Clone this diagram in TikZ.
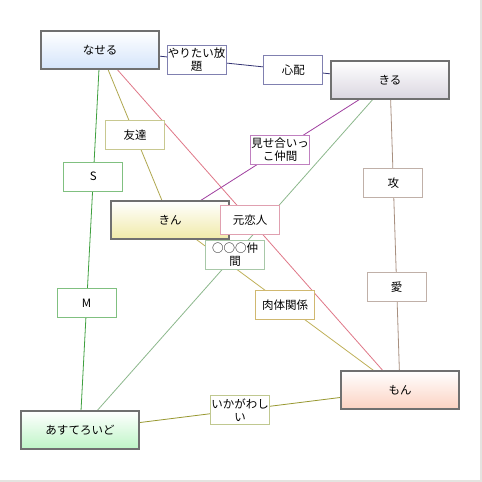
\documentclass[tikz,border=0pt]{standalone}
\usepackage{fontspec}
\newfontfamily\jp{Noto Sans CJK JP}
\pgfdeclarelayer{bgl}
\pgfdeclarelayer{edges}
\pgfdeclarelayer{labels}
\pgfsetlayers{bgl,edges,main,labels}
\definecolor{mainborder}{HTML}{707070}
\definecolor{cNaseru}{HTML}{D4E4FA}
\definecolor{cKiru}{HTML}{DAD6E0}
\definecolor{cKin}{HTML}{F0EAA8}
\definecolor{cAsu}{HTML}{BEF5C6}
\definecolor{cMon}{HTML}{FCD2C2}
\definecolor{eNavy}{HTML}{343474}
\definecolor{eGreen}{HTML}{40A040}
\definecolor{eOlive}{HTML}{B0A850}
\definecolor{ePink}{HTML}{E07888}
\definecolor{ePurple}{HTML}{A040A0}
\definecolor{eGrayGreen}{HTML}{8CB88C}
\definecolor{eGold}{HTML}{C0B058}
\definecolor{eBrown}{HTML}{A89080}
\definecolor{eDarkOlive}{HTML}{989830}
\definecolor{bNavy}{HTML}{8080B0}
\definecolor{bGreen}{HTML}{80C080}
\definecolor{bOlive}{HTML}{C8C890}
\definecolor{bPink}{HTML}{E0A0B0}
\definecolor{bPurple}{HTML}{C080C0}
\definecolor{bGrayGreen}{HTML}{A8C8A8}
\definecolor{bGold}{HTML}{D0B870}
\definecolor{bBrown}{HTML}{C0B0A8}
\definecolor{bDarkOlive}{HTML}{C0C890}
\definecolor{frame}{HTML}{E4E4E0}
\tikzset{
  mainbox/.style={draw=mainborder, line width=2pt, minimum width=118pt, minimum height=38pt,
    top color=white, bottom color=#1, font=\jp\fontsize{11.5}{13}\selectfont, inner sep=0pt},
  labbox/.style={draw=#1, line width=1pt, fill=white, minimum width=59pt, minimum height=29pt,
    font=\jp\fontsize{11.5}{13}\selectfont, inner sep=0pt, align=center},
  conn/.style={draw=#1, line width=0.8pt}
}
\begin{document}
\begin{tikzpicture}[x=1pt,y=-1pt]
\useasboundingbox (0,0) rectangle (482,482);
\begin{pgfonlayer}{bgl}
\fill[white] (0,0) rectangle (482,482);
\fill[frame] (480,0) rectangle (482,482);
\fill[frame] (0,480) rectangle (482,482);
\end{pgfonlayer}

\node[mainbox=cNaseru] (naseru) at (100,50) {なせる};
\node[mainbox=cKiru] (kiru) at (390,80) {きる};
\node[mainbox=cKin] (kin) at (170,220) {きん};
\node[mainbox=cAsu] (asu) at (80,430) {あすてろいど};
\node[mainbox=cMon] (mon) at (400,390) {もん};

\begin{pgfonlayer}{edges}
\draw[conn=eNavy] (naseru.center) -- (kiru.center);
\draw[conn=eGreen] (naseru.center) -- (asu.center);
\draw[conn=eOlive] (naseru.center) -- (kin.center);
\draw[conn=ePink] (naseru.center) -- (mon.center);
\draw[conn=ePurple] (kiru.center) -- (kin.center);
\draw[conn=eGrayGreen] (kiru.center) -- (asu.center);
\draw[conn=eGold] (kin.center) -- (mon.center);
\draw[conn=eBrown] (kiru.center) -- (mon.center);
\draw[conn=eDarkOlive] (asu.center) -- (mon.center);
\end{pgfonlayer}

\begin{pgfonlayer}{labels}
\path (naseru.center) -- node[pos=1/3, labbox=bNavy] (l1) {やりたい放\\題} node[pos=2/3, labbox=bNavy] (l2) {心配} (kiru.center);
\path (naseru.center) -- node[pos=1/3, labbox=bGreen] (l3) {S} node[pos=2/3, labbox=bGreen] (l4) {M} (asu.center);
\path (naseru.center) -- node[pos=0.5, labbox=bOlive] (l5) {友達} (kin.center);
\path (naseru.center) -- node[pos=0.5, labbox=bPink] (l6) {元恋人} (mon.center);
\path (kiru.center) -- node[pos=0.5, labbox=bPurple] (l7) {見せ合いっ\\こ仲間} (kin.center);
\path (kiru.center) -- node[pos=0.5, labbox=bGrayGreen] (l8) {○○○仲\\間} (asu.center);
\path (kin.center) -- node[pos=0.5, labbox=bGold] (l9) {肉体関係} (mon.center);
\path (kiru.center) -- node[pos=1/3, labbox=bBrown] (l10) {攻} node[pos=2/3, labbox=bBrown] (l11) {愛} (mon.center);
\path (asu.center) -- node[pos=0.5, labbox=bDarkOlive] (l12) {いかがわし\\い} (mon.center);
\end{pgfonlayer}
\end{tikzpicture}
\end{document}
